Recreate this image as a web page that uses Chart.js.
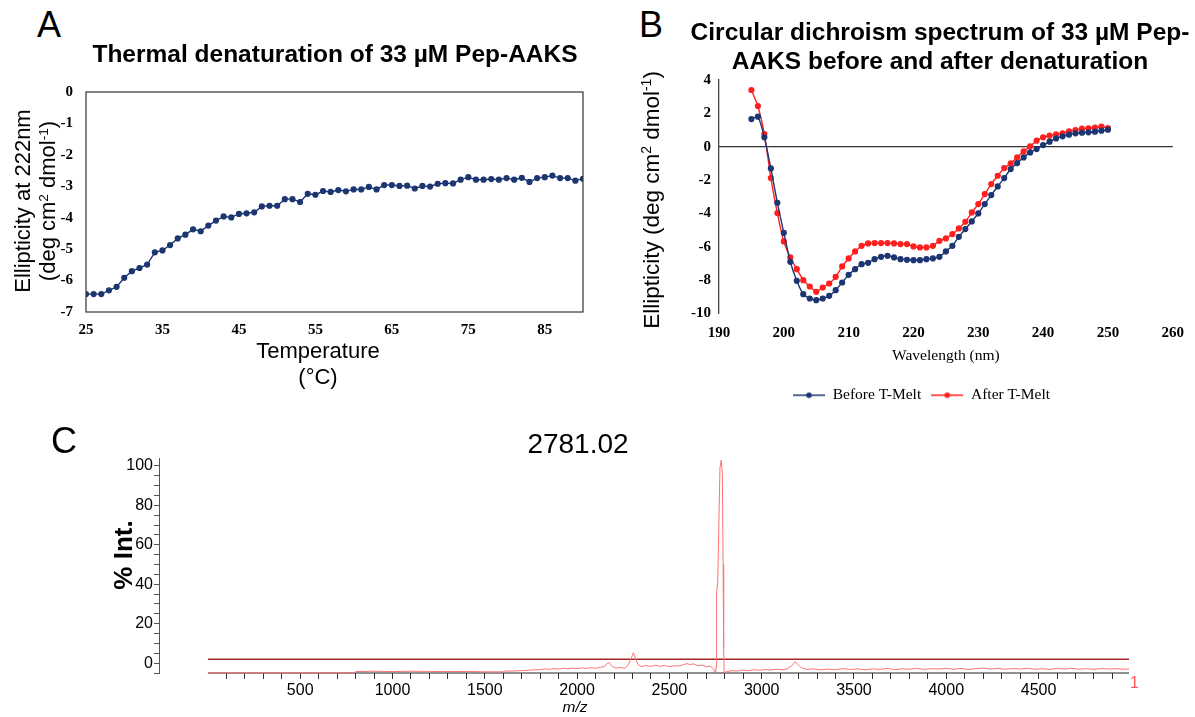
<!DOCTYPE html>
<html>
<head>
<meta charset="utf-8">
<title>Pep-AAKS thermal denaturation, CD spectrum and MS</title>
<script src="https://cdn.jsdelivr.net/npm/chart.js@4.4.1/dist/chart.umd.min.js"></script>
<style>
  body { margin: 0; width: 1195px; height: 717px; background: #fff; position: relative; overflow: hidden;
         font-family: "Liberation Sans", Arial, sans-serif; color: #000; }
  canvas { position: absolute; }
  .t { position: absolute; white-space: nowrap; }
  .rot { transform: rotate(-90deg); text-align: center; }
  sup { font-size: 0.62em; line-height: 0; vertical-align: 0.55em; }
</style>
</head>
<body>
<canvas id="chart-a" width="600" height="270" style="left:0;top:70px"></canvas>
<canvas id="chart-b" width="535" height="353" style="left:660px;top:60px"></canvas>
<canvas id="chart-c" width="1195" height="297" style="left:0;top:420px"></canvas>

<!-- panel letters -->
<div class="t" style="left:37px;top:7px;font-size:36px;line-height:36px">A</div>
<div class="t" style="left:639px;top:7px;font-size:36px;line-height:36px">B</div>
<div class="t" style="left:51px;top:423px;font-size:36px;line-height:36px">C</div>

<!-- panel A text -->
<div class="t" style="left:0;width:670px;top:39px;text-align:center;font-size:24.5px;line-height:30px;font-weight:bold">Thermal denaturation of 33 µM Pep-AAKS</div>
<div class="t rot" style="left:-115.5px;top:176px;width:300px;height:50px;font-size:22px;line-height:25px">Ellipticity at 222nm<br>(deg cm<sup>2</sup> dmol<sup>-1</sup>)</div>
<div class="t" style="left:168px;width:300px;top:338px;text-align:center;font-size:22px;line-height:26px">Temperature<br>(°C)</div>

<!-- panel B text -->
<div class="t" style="left:640px;width:600px;top:16.5px;text-align:center;font-size:24.5px;line-height:29px;font-weight:bold">Circular dichroism spectrum of 33 µM Pep-<br>AAKS before and after denaturation</div>
<div class="t rot" style="left:502px;top:186px;width:300px;height:28px;font-size:22.5px;line-height:28px">Ellipticity (deg cm<sup>2</sup> dmol<sup>-1</sup>)</div>

<!-- panel C text -->
<div class="t" style="left:428px;width:300px;top:428px;text-align:center;font-size:28px;line-height:32px">2781.02</div>
<div class="t rot" style="left:63px;top:540px;width:120px;height:30px;font-size:26px;line-height:30px;font-weight:bold">% Int.</div>
<div class="t" style="left:525px;width:100px;top:698px;text-align:center;font-size:15.5px;line-height:18px;font-style:italic">m/z</div>
<div class="t" style="left:1130px;top:674px;font-size:16px;line-height:18px;color:#ff5a5a">1</div>

<script>
// ---- panel A: thermal melt at 222 nm ----
const tempA = [25, 26, 27, 28, 29, 30, 31, 32, 33, 34,
               35, 36, 37, 38, 39, 40, 41, 42, 43, 44,
               45, 46, 47, 48, 49, 50, 51, 52, 53, 54,
               55, 56, 57, 58, 59, 60, 61, 62, 63, 64,
               65, 66, 67, 68, 69, 70, 71, 72, 73, 74,
               75, 76, 77, 78, 79, 80, 81, 82, 83, 84,
               85, 86, 87, 88, 89, 90];
const ellipA = [-6.43, -6.43, -6.43, -6.31, -6.20, -5.91, -5.70, -5.60, -5.49, -5.10,
                -5.04, -4.87, -4.66, -4.54, -4.37, -4.43, -4.25, -4.09, -3.96, -3.99,
                -3.88, -3.86, -3.83, -3.64, -3.62, -3.62, -3.41, -3.41, -3.50, -3.24,
                -3.27, -3.15, -3.18, -3.12, -3.16, -3.10, -3.10, -3.02, -3.10, -2.96,
                -2.96, -2.99, -2.98, -3.07, -2.99, -3.01, -2.92, -2.90, -2.91, -2.79,
                -2.71, -2.79, -2.79, -2.77, -2.79, -2.74, -2.79, -2.73, -2.86, -2.74,
                -2.71, -2.66, -2.74, -2.74, -2.82, -2.76];
const tempTicksA = [25, 35, 45, 55, 65, 75, 85];
const ellipTicksA = [0, -1, -2, -3, -4, -5, -6, -7];

// ---- panel B: CD spectra ----
const wlB = [195, 196, 197, 198, 199, 200, 201, 202, 203, 204,
             205, 206, 207, 208, 209, 210, 211, 212, 213, 214,
             215, 216, 217, 218, 219, 220, 221, 222, 223, 224,
             225, 226, 227, 228, 229, 230, 231, 232, 233, 234,
             235, 236, 237, 238, 239, 240, 241, 242, 243, 244,
             245, 246, 247, 248, 249, 250];
const beforeB = [1.66, 1.80, 0.56, -1.30, -3.36, -5.16, -6.90, -8.04, -8.84, -9.10,
                 -9.20, -9.10, -8.94, -8.60, -8.14, -7.68, -7.34, -7.04, -6.96, -6.74,
                 -6.60, -6.54, -6.64, -6.74, -6.78, -6.80, -6.80, -6.74, -6.70, -6.60,
                 -6.28, -5.94, -5.40, -4.94, -4.48, -4.00, -3.44, -2.90, -2.38, -1.88,
                 -1.34, -0.98, -0.64, -0.34, -0.14, 0.10, 0.30, 0.50, 0.62, 0.72,
                 0.80, 0.84, 0.86, 0.90, 0.96, 1.02];
const afterB = [3.40, 2.44, 0.76, -1.88, -3.98, -5.68, -6.64, -7.34, -8.00, -8.38,
                -8.70, -8.44, -8.20, -7.80, -7.18, -6.70, -6.28, -5.94, -5.80, -5.78,
                -5.78, -5.78, -5.80, -5.84, -5.84, -5.98, -6.04, -6.04, -5.94, -5.64,
                -5.50, -5.24, -4.90, -4.50, -3.94, -3.44, -2.84, -2.24, -1.74, -1.28,
                -1.00, -0.64, -0.28, 0.02, 0.36, 0.56, 0.66, 0.74, 0.80, 0.92,
                1.00, 1.08, 1.10, 1.14, 1.20, 1.12];
const wlTicksB = [190, 200, 210, 220, 230, 240, 250, 260];
const ellipTicksB = [4, 2, 0, -2, -4, -6, -8, -10];

// ---- panel C: MALDI spectrum ----
const mzC = [0, 795, 800, 900, 1000, 1100, 1200, 1300, 1400, 1500,
             1600, 1610, 1650, 1700, 1750, 1800, 1825, 1850, 1875, 1900,
             1925, 1950, 1975, 2000, 2025, 2050, 2075, 2100, 2125, 2150,
             2165, 2175, 2190, 2210, 2235, 2260, 2280, 2295, 2305, 2315,
             2330, 2350, 2375, 2400, 2425, 2450, 2475, 2500, 2525, 2550,
             2575, 2595, 2610, 2630, 2655, 2680, 2700, 2720, 2740, 2750,
             2753, 2756, 2762, 2768, 2774, 2781, 2787, 2791, 2794, 2797,
             2810, 2840, 2870, 2900, 2930, 2960, 2990, 3020, 3050, 3080,
             3110, 3140, 3165, 3180, 3195, 3215, 3245, 3280, 3320, 3360,
             3400, 3440, 3480, 3520, 3560, 3600, 3640, 3680, 3720, 3760,
             3800, 3840, 3880, 3920, 3960, 4000, 4040, 4080, 4120, 4160,
             4200, 4240, 4280, 4320, 4360, 4400, 4440, 4480, 4520, 4560,
             4600, 4640, 4680, 4720, 4760, 4800, 4840, 4880, 4920, 4960,
             4990];
const intC = [-5, -5, -4.3, -4.1, -4.3, -4.1, -4.2, -4.3, -4.2, -4.4,
              -4.4, -4.0, -4.0, -3.8, -3.5, -3.3, -2.9, -3.2, -2.8, -3.0,
              -2.6, -2.9, -2.5, -2.8, -2.4, -2.7, -2.3, -2.6, -2.2, -1.6,
              0.0, 0.2, -1.6, -2.5, -2.2, -2.6, -0.5, 3.0, 5.2, 2.8,
              -0.8, -1.8, -1.2, -1.7, -1.0, -1.6, -1.2, -1.8, -1.3, -1.5,
              -0.8, -0.2, -0.7, -0.4, -1.3, -1.0, -1.8, -1.5, -3.0, -4.8,
              -2.0, 36, 41, 70, 99, 103, 96, 50, 8, -5,
              -4.3, -3.8, -4.0, -3.5, -3.8, -3.3, -3.6, -3.2, -3.5, -3.1,
              -3.4, -2.9, -1.2, 0.7, -0.5, -2.4, -3.2, -2.9, -3.4, -3.0,
              -3.3, -2.8, -3.2, -2.9, -3.4, -2.9, -3.2, -2.7, -3.3, -2.9,
              -3.1, -2.6, -3.2, -2.8, -3.0, -2.6, -3.1, -2.7, -3.2, -2.8,
              -2.5, -3.0, -2.6, -3.1, -2.7, -3.0, -2.6, -3.1, -2.8, -3.2,
              -2.7, -3.0, -2.6, -3.1, -2.8, -3.2, -2.7, -3.0, -2.8, -3.1,
              -3.0];
const thresholdC = 2;
const mzLabelsC = [500, 1000, 1500, 2000, 2500, 3000, 3500, 4000, 4500];
const pctLabelsC = [0, 20, 40, 60, 80, 100];

Chart.defaults.font.family = '"Liberation Sans", Arial, sans-serif';
Chart.defaults.color = '#000';

const navy = '#1c3672';
const red = '#ff1f1f';
const serifFamily = '"Liberation Serif", "Times New Roman", serif';
const serifBold = { family: serifFamily, size: 15, weight: 'bold' };

function fixTicks(values) {
  return function (scale) { scale.ticks = values.map(v => ({ value: v })); };
}

const boxFrame = {
  id: 'boxFrame',
  afterDraw(chart) {
    const { ctx, chartArea: a } = chart;
    ctx.save();
    ctx.strokeStyle = '#333';
    ctx.lineWidth = 1.2;
    ctx.strokeRect(a.left, a.top, a.right - a.left, a.bottom - a.top);
    ctx.restore();
  }
};

const zeroLine = {
  id: 'zeroLine',
  beforeDatasetsDraw(chart) {
    const { ctx, chartArea: a, scales } = chart;
    const py = scales.y.getPixelForValue(0);
    ctx.save();
    ctx.strokeStyle = '#333';
    ctx.lineWidth = 1.2;
    ctx.beginPath();
    ctx.moveTo(a.left, py);
    ctx.lineTo(a.right, py);
    ctx.stroke();
    ctx.restore();
  }
};

const mzBaseline = {
  id: 'mzBaseline',
  beforeDatasetsDraw(chart) {
    const { ctx, chartArea: a, scales } = chart;
    ctx.save();
    ctx.strokeStyle = '#222';
    ctx.lineWidth = 1.2;
    ctx.beginPath();
    ctx.moveTo(scales.x.getPixelForValue(0), a.bottom);
    ctx.lineTo(a.right, a.bottom);
    ctx.stroke();
    ctx.restore();
  }
};

function legendMark(color) {
  const c = document.createElement('canvas');
  c.width = 32;
  c.height = 10;
  const g = c.getContext('2d');
  g.strokeStyle = color;
  g.lineWidth = 1.5;
  g.beginPath();
  g.moveTo(0, 5);
  g.lineTo(32, 5);
  g.stroke();
  g.fillStyle = color;
  g.beginPath();
  g.arc(16, 5, 2.8, 0, Math.PI * 2);
  g.fill();
  return c;
}

// ---- chart A ----
new Chart(document.getElementById('chart-a'), {
  type: 'line',
  data: {
    datasets: [{
      data: tempA.map((t, i) => ({ x: t, y: ellipA[i] })),
      borderColor: navy,
      backgroundColor: navy,
      borderWidth: 1.4,
      pointRadius: 2.4,
      pointHoverRadius: 2.4
    }]
  },
  options: {
    responsive: false,
    animation: false,
    layout: { padding: { top: 17, right: 17, left: 0, bottom: 0 } },
    plugins: { legend: { display: false }, tooltip: { enabled: false } },
    scales: {
      x: {
        type: 'linear', min: 25, max: 90,
        afterBuildTicks: fixTicks(tempTicksA),
        afterFit: s => { s.height = 28; },
        grid: { display: false, drawTicks: false },
        border: { display: false },
        ticks: { font: serifBold, padding: 9, maxRotation: 0 }
      },
      y: {
        min: -7, max: 0,
        afterBuildTicks: fixTicks(ellipTicksA),
        afterFit: s => { s.width = 86; },
        grid: { display: false, drawTicks: false },
        border: { display: false },
        ticks: { font: serifBold, padding: 13 }
      }
    }
  },
  plugins: [boxFrame]
});

// ---- chart B ----
const marksB = [legendMark(navy), legendMark(red)];
new Chart(document.getElementById('chart-b'), {
  type: 'line',
  data: {
    datasets: [
      {
        label: 'Before T-Melt',
        data: wlB.map((w, i) => ({ x: w, y: beforeB[i] })),
        borderColor: navy, backgroundColor: navy,
        borderWidth: 1.4, pointRadius: 2.4, tension: 0.2
      },
      {
        label: 'After T-Melt',
        data: wlB.map((w, i) => ({ x: w, y: afterB[i] })),
        borderColor: red, backgroundColor: red,
        borderWidth: 1.4, pointRadius: 2.4, tension: 0.2
      }
    ]
  },
  options: {
    responsive: false,
    animation: false,
    layout: { padding: { top: 20, right: 12, left: 0, bottom: 0 } },
    plugins: {
      tooltip: { enabled: false },
      legend: {
        position: 'bottom',
        labels: {
          font: { family: serifFamily, size: 15.5 },
          color: '#000',
          padding: 10,
          usePointStyle: true,
          pointStyleWidth: 32,
          generateLabels: chart => chart.data.datasets.map((ds, i) => ({
            text: ds.label,
            pointStyle: marksB[i],
            datasetIndex: i,
            hidden: false,
            lineWidth: 0,
            fillStyle: 'transparent',
            strokeStyle: 'transparent',
            fontColor: '#000'
          }))
        }
      }
    },
    scales: {
      x: {
        type: 'linear', min: 190, max: 260,
        afterBuildTicks: fixTicks(wlTicksB),
        afterFit: s => { s.height = 64; },
        grid: { display: false, drawTicks: false },
        border: { display: false },
        ticks: { font: serifBold, padding: 11, maxRotation: 0 },
        title: {
          display: true, text: 'Wavelength (nm)',
          font: { family: serifFamily, size: 15.5 },
          padding: { top: 0, bottom: 12 }
        }
      },
      y: {
        min: -10, max: 4,
        afterBuildTicks: fixTicks(ellipTicksB),
        afterFit: s => { s.width = 59; },
        grid: { display: false, drawTicks: false },
        border: { display: true, color: '#444', width: 1.3 },
        ticks: { font: serifBold, padding: 8 }
      }
    }
  },
  plugins: [zeroLine]
});

// ---- chart C ----
new Chart(document.getElementById('chart-c'), {
  type: 'line',
  data: {
    datasets: [
      {
        data: mzC.map((m, i) => ({ x: m, y: intC[i] })),
        borderColor: '#ff7373',
        borderWidth: 1,
        pointRadius: 0,
        clip: 4
      },
      {
        data: [{ x: 0, y: thresholdC }, { x: 4990, y: thresholdC }],
        borderColor: '#a3262e',
        borderWidth: 1.5,
        pointRadius: 0
      }
    ]
  },
  options: {
    responsive: false,
    animation: false,
    layout: { padding: { top: 38, right: 66, left: 0, bottom: 0 } },
    plugins: { legend: { display: false }, tooltip: { enabled: false } },
    scales: {
      x: {
        type: 'linear', min: -265, max: 4990,
        afterBuildTicks: s => {
          const t = [];
          for (let v = 100; v < 5000; v += 100) t.push({ value: v });
          s.ticks = t;
        },
        afterFit: s => { s.height = 44; },
        grid: { display: true, drawOnChartArea: false, drawTicks: true, tickLength: 6, color: '#333' },
        border: { display: false },
        ticks: {
          autoSkip: false, maxRotation: 0, padding: 2,
          font: { size: 16 },
          callback: v => mzLabelsC.includes(v) ? String(v) : ''
        }
      },
      y: {
        min: -5, max: 104,
        afterBuildTicks: s => {
          const t = [];
          for (let v = -5; v <= 100; v += 5) t.push({ value: v });
          s.ticks = t;
        },
        afterFit: s => { s.width = 159; },
        grid: { display: true, drawOnChartArea: false, drawTicks: true, tickLength: 5, color: '#555' },
        border: { display: true, color: '#555', width: 1 },
        ticks: {
          autoSkip: false, padding: 1,
          font: { size: 16 },
          callback: v => pctLabelsC.includes(v) ? String(v) : ''
        }
      }
    }
  },
  plugins: [mzBaseline]
});
</script>
</body>
</html>
